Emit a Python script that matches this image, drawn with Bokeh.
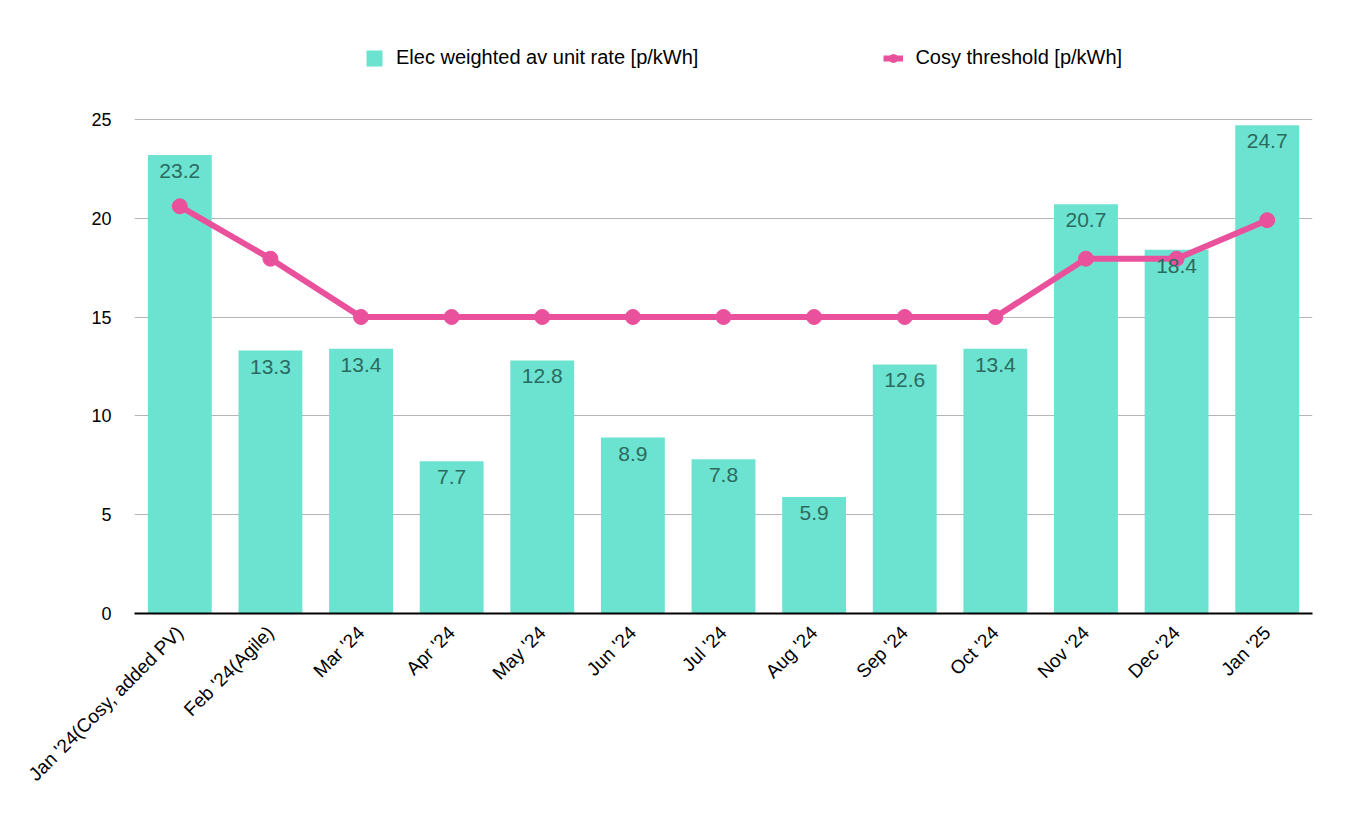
import math
from bokeh.plotting import figure
from bokeh.models import ColumnDataSource, Range1d, Legend, LegendItem, LabelSet
from bokeh.core.properties import value
from bokeh.embed import file_html
from bokeh.resources import INLINE

categories = ["Jan '24(Cosy, added PV)", "Feb '24(Agile)", "Mar '24", "Apr '24", "May '24",
              "Jun '24", "Jul '24", "Aug '24", "Sep '24", "Oct '24", "Nov '24", "Dec '24", "Jan '25"]
unit_rate = [23.2, 13.3, 13.4, 7.7, 12.8, 8.9, 7.8, 5.9, 12.6, 13.4, 20.7, 18.4, 24.7]
cosy_threshold = [20.6, 17.95, 15.0, 15.0, 15.0, 15.0, 15.0, 15.0, 15.0, 15.0, 17.95, 17.95, 19.9]
y_ticks = [0, 5, 10, 15, 20, 25]

BAR = "#6ce3d0"
PINK = "#ea519c"
FONT = "Liberation Sans"

src = ColumnDataSource(dict(
    cat=categories,
    rate=unit_rate,
    thr=cosy_threshold,
    lbl=[f"{v:.1f}" for v in unit_rate],
))

# y range extends above 25 so the legend sits inside the frame (no grid/ticks above 25)
p = figure(x_range=categories, y_range=Range1d(0, 30),
           width=1334, height=798, output_backend="svg", toolbar_location=None,
           min_border_left=134, min_border_right=22, min_border_top=20, min_border_bottom=185)
p.outline_line_color = None
p.background_fill_color = "white"

bars = p.vbar(x="cat", top="rate", width=0.705, source=src, fill_color=BAR, line_color=None)
line = p.line(x="cat", y="thr", source=src, line_color=PINK, line_width=6)
pts = p.scatter(x="cat", y="thr", source=src, size=15, fill_color=PINK, line_color=PINK)

labels = LabelSet(x="cat", y="rate", text="lbl", source=src, y_offset=-9,
                  text_align="center", text_baseline="top", text_font=value(FONT),
                  text_font_size="21px", text_color="#2b6a5e")
p.add_layout(labels)

# axes
p.xaxis.axis_line_color = "black"
p.xaxis.axis_line_width = 2
p.xaxis.major_tick_line_color = None
p.xaxis.minor_tick_line_color = None
p.xaxis.major_label_orientation = math.pi / 4
p.xaxis.major_label_text_font = FONT
p.xaxis.major_label_text_font_size = "19px"
p.xaxis.major_label_text_color = "black"
p.xaxis.major_label_standoff = 10

p.yaxis.ticker = y_ticks
p.yaxis.axis_line_color = None
p.yaxis.major_tick_line_color = None
p.yaxis.minor_tick_line_color = None
p.yaxis.major_label_text_font = FONT
p.yaxis.major_label_text_font_size = "18px"
p.yaxis.major_label_text_color = "black"
p.yaxis.major_label_standoff = 17

p.xgrid.grid_line_color = None
p.ygrid.grid_line_color = "#b5b5b5"
p.ygrid.grid_line_width = 1

legend = Legend(items=[
    LegendItem(label="Elec weighted av unit rate [p/kWh]", renderers=[bars]),
    LegendItem(label="Cosy threshold [p/kWh]", renderers=[line, pts]),
], orientation="horizontal", location=(230, 544), spacing=185,
    label_text_font=FONT, label_text_font_size="20px", label_standoff=12,
    label_text_color="black",
    glyph_width=20, glyph_height=20, border_line_color=None, background_fill_alpha=0)
p.add_layout(legend)

open("out.html", "w").write(file_html(p, INLINE))
